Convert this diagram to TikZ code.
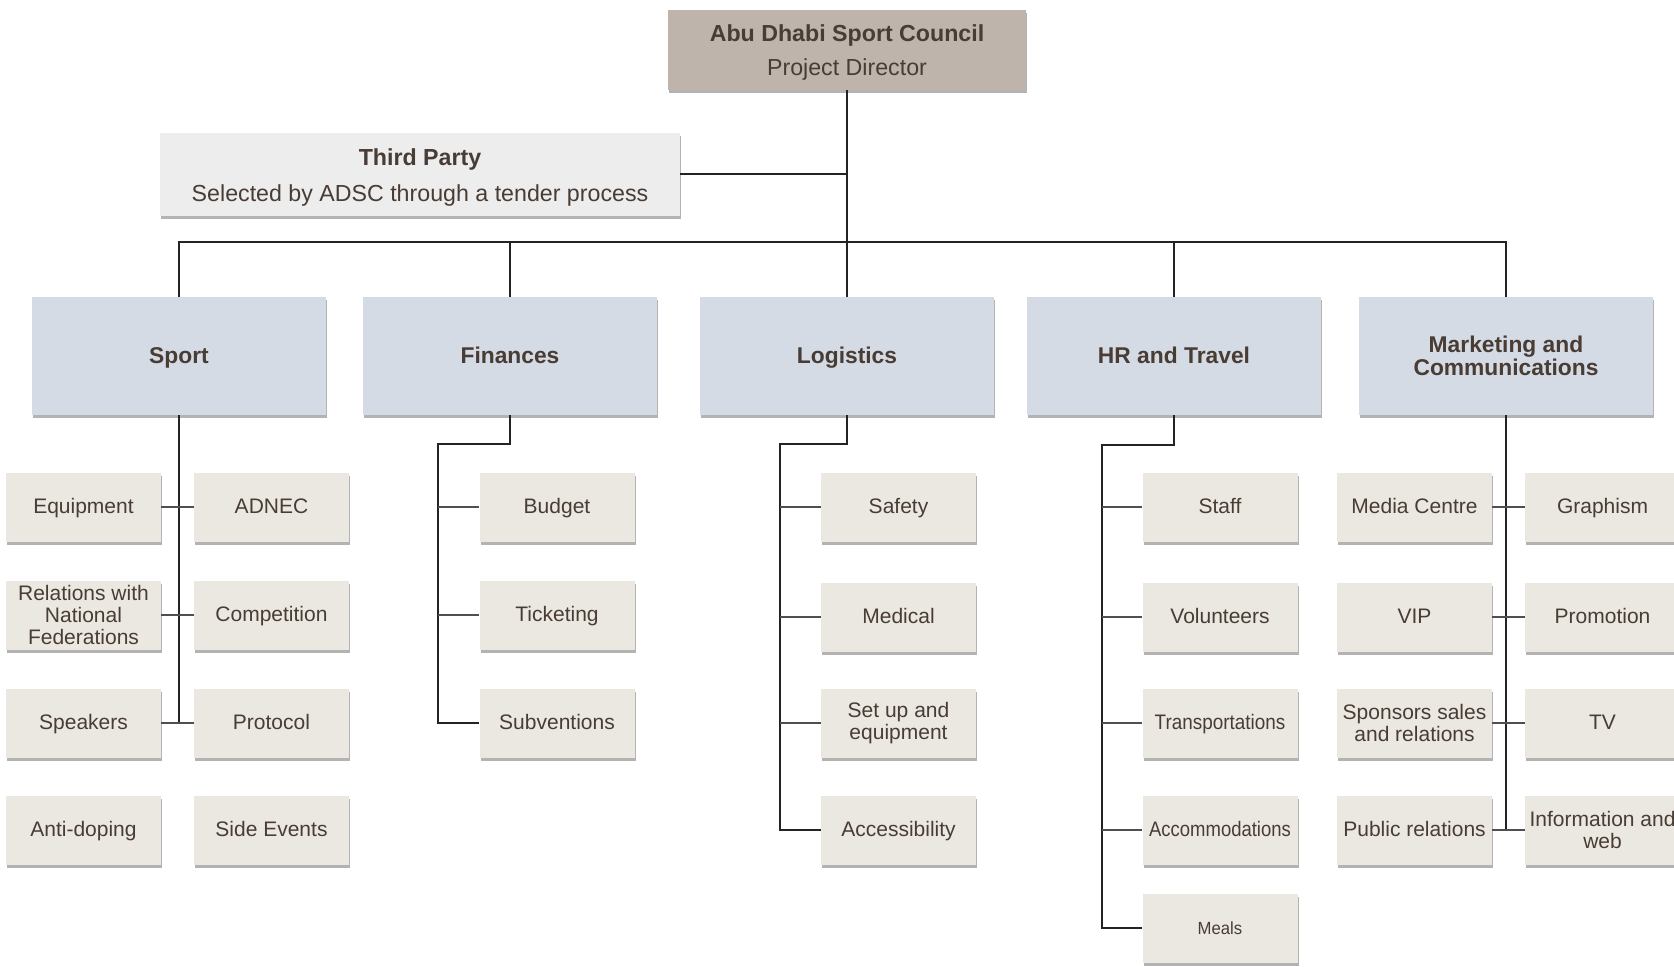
\documentclass[tikz,border=0pt]{standalone}
\usepackage{fontspec}
\setmainfont{Liberation Sans}
\usetikzlibrary{shadows}
\definecolor{ink}{RGB}{72,60,52}
\definecolor{headfill}{RGB}{190,180,172}
\definecolor{thirdfill}{RGB}{237,237,237}
\definecolor{deptfill}{RGB}{213,219,228}
\definecolor{unitfill}{RGB}{235,232,226}
\definecolor{lk}{RGB}{35,35,35}

\begin{document}
\begin{tikzpicture}[x=0.5pt,y=-0.5pt,
	box/.style={inner sep=0pt,align=center,text=ink,drop shadow={shadow xshift=0.7pt,shadow yshift=-1.7pt,fill=black!75,opacity=0.4}},
	one/.style={text height=0.73em,text depth=0.1em},
	head/.style={box,fill=headfill,minimum width=179pt,minimum height=40pt,font=\fontsize{11.6}{17}\selectfont},
	third/.style={box,fill=thirdfill,minimum width=260pt,minimum height=41.5pt,font=\fontsize{11.6}{18}\selectfont},
	dept/.style={box,fill=deptfill,minimum width=147pt,minimum height=59pt,font=\fontsize{11.4}{11.7}\selectfont\bfseries},
	deptone/.style={dept,text height=0.78em,text depth=0pt},
	unit/.style={box,fill=unitfill,minimum width=77.5pt,minimum height=34.5pt,font=\fontsize{10.5}{11.2}\selectfont},
	link/.style={draw=lk,line width=0.65pt},
	twig/.style={draw=lk!80,line width=0.55pt}]
	\useasboundingbox (0,0) rectangle (1674,966);
	
	%TOP
	\node[head] (top) at (847,50) {\rule{0pt}{10.5pt}\textbf{Abu Dhabi Sport Council}\\Project Director};
	\node[third] (third) at (420,174) {\rule{0pt}{12pt}\textbf{Third Party}\\Selected by ADSC through a tender process};
	
	%DEPARTMENTS
	\node[deptone] (sport) at (179,356) {Sport};
	\node[deptone] (fin) at (510,356) {Finances};
	\node[deptone] (logi) at (847,356) {Logistics};
	\node[deptone] (hr) at (1174,356) {HR and Travel};
	\node[dept] (mkt) at (1506,356) {Marketing and\\Communications};
	
	%SPORT
	\node[unit,one] (equip) at (83.5,507) {Equipment};
	\node[unit,one] (adnec) at (271.5,507) {ADNEC};
	\node[unit] (relat) at (83.5,615) {Relations with\\National\\Federations};
	\node[unit,one] (compet) at (271.5,615) {Competition};
	\node[unit,one] (spk) at (83.5,723) {Speakers};
	\node[unit,one] (proto) at (271.5,723) {Protocol};
	\node[unit,one] (antidop) at (83.5,830) {Anti-doping};
	\node[unit,one] (side) at (271.5,830) {Side Events};
	
	%FINANCES
	\node[unit,one] (budget) at (557,507) {Budget};
	\node[unit,one] (ticket) at (557,615) {Ticketing};
	\node[unit,one] (subv) at (557,723) {Subventions};
	
	%LOGISTICS
	\node[unit,one] (safety) at (898.5,507) {Safety};
	\node[unit,one] (medic) at (898.5,617) {Medical};
	\node[unit] (setup) at (898.5,723) {Set up and\\equipment};
	\node[unit,one] (access) at (898.5,830) {Accessibility};
	
	%HR AND TRAVEL
	\node[unit,one] (staff) at (1220,507) {Staff};
	\node[unit,one] (volun) at (1220,617) {Volunteers};
	\node[unit,one] (transp) at (1220,723) {\scalebox{0.9}[1]{Transportations}};
	\node[unit,one] (accom) at (1220,830) {\scalebox{0.88}[1]{Accommodations}};
	\node[unit,one,font=\fontsize{8.8}{10}\selectfont] (meals) at (1220,928) {\scalebox{0.95}[1]{Meals}};
	
	%MARKETING
	\node[unit,one] (media) at (1414.5,507) {Media Centre};
	\node[unit,one] (graph) at (1602.5,507) {Graphism};
	\node[unit,one] (vip) at (1414.5,617) {VIP};
	\node[unit,one] (promo) at (1602.5,617) {Promotion};
	\node[unit] (spons) at (1414.5,723) {Sponsors sales\\and relations};
	\node[unit,one] (tv) at (1602.5,723) {TV};
	\node[unit,one] (pubrel) at (1414.5,830) {Public relations};
	\node[unit] (infoweb) at (1602.5,830) {Information and\\web};
	
	%LINKS
	\draw[link] (top.south) -- (logi.north);
	\draw[link] (third.east) -- (third.east -| top.south);
	\coordinate (bus) at (847,242);
	\draw[link] (sport.north) |- (bus) -| (mkt.north);
	\foreach \d in {fin,hr}
	\draw[link] (\d.north) -- (\d.north |- bus);
	
	\draw[link] (sport.south) -- (sport.south |- spk.east);
	\foreach \l/\r in {equip/adnec,relat/compet,spk/proto}
	\draw[twig] (\l.east) -- (\r.west);
	
	\coordinate (finbend) at (438,444);
	\draw[link] (fin.south) |- (finbend) |- (subv.west);
	\foreach \n in {budget,ticket}
	\draw[twig] (finbend |- \n.west) -- (\n.west);
	
	\coordinate (logibend) at (780,444);
	\draw[link,line width=0.9pt] (logi.south) |- (logibend) |- (access.west);
	\foreach \n in {safety,medic,setup}
	\draw[twig] (logibend |- \n.west) -- (\n.west);
	
	\coordinate (hrbend) at (1102,445);
	\draw[link,line width=0.9pt] (hr.south) |- (hrbend) |- (meals.west);
	\foreach \n in {staff,volun,transp,accom}
	\draw[twig] (hrbend |- \n.west) -- (\n.west);
	
	\draw[link] (mkt.south) -- (mkt.south |- pubrel.east);
	\foreach \l/\r in {media/graph,vip/promo,spons/tv,pubrel/infoweb}
	\draw[twig] (\l.east) -- (\r.west);
\end{tikzpicture}
\end{document}
